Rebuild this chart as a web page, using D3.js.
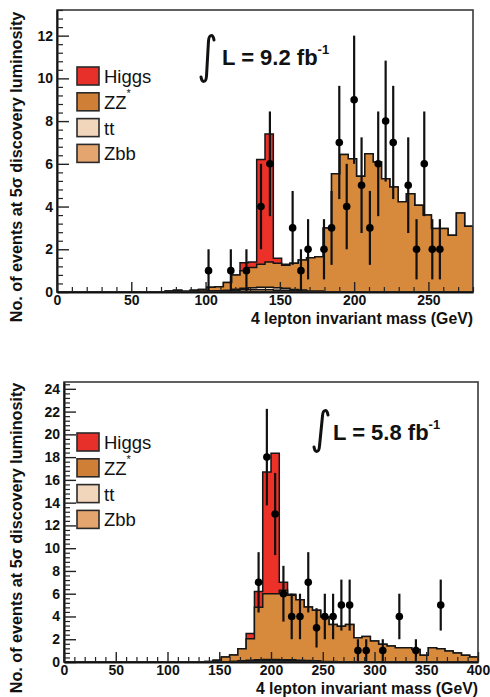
<!DOCTYPE html>
<html><head><meta charset="utf-8">
<script src="https://cdn.jsdelivr.net/npm/d3@7"></script>
<style>
body{margin:0;background:#fff}
svg{display:block}
text{font-family:"Liberation Sans",Arial,Helvetica,sans-serif}
</style>
</head><body>
<svg id="c" width="490" height="697"></svg>
<script>
// ---------- data: top panel (0-280 GeV, 50 bins) ----------
const topRange = [0, 280];
const topBinCount = 50;
const topHiggs = [0,0,0,0,0,0,0,0,0,0, 0,0,0,0,0,0,0,0,0,0,
  0,0,0.37,0.25,4.9,6.0,0.23,0.05,0,0, 0,0,0,0,0,0,0,0,0,0, 0,0,0,0,0,0,0,0,0,0];
const topZZ = [0,0,0,0,0,0,0,0,0,0, 0,0,0,0.05,0.08,0.04,0.08,0.08,0.17,0.19,
  0.38,0.67,0.82,0.95,1.08,1.18,1.15,1.07,1.23,1.41, 1.56,1.62,3.0,5.54,6.44,6.24,5.42,6.47,6.08,5.3,
  4.92,4.22,4.6,4.06,3.6,2.97,2.97,2.66,3.7,3.08];
const topTT = [0,0,0,0,0,0,0,0,0,0, 0,0,0,0,0,0,0,0,0,0,
  0,0.05,0.08,0.1,0.12,0.12,0.12,0.1,0.06,0.04, 0,0,0,0,0,0,0,0,0,0, 0,0,0,0,0,0,0,0,0,0];
const topZbb = [0,0,0,0,0,0,0,0,0,0, 0,0,0,0,0,0,0,0.04,0.05,0.06,
  0.07,0.08,0.1,0.1,0.1,0.1,0.08,0.08,0.06,0.05, 0.04,0.03,0,0,0,0,0,0,0,0, 0,0,0,0,0,0,0,0,0,0];
const topDataX = [102,117,127.5,137.3,143.3,158.6,164.2,169,179.7,184.8,190,195,200,205,210.6,216.2,221.2,226.3,236.4,242,247.2,252.6,257.7];
const topDataY = [1,1,1,4,6,3,1,2,2,3,7,4,9,5,3,6,8,7,5,2,6,2,2];
const topDataErr = [1,1,1,2,2.45,1.73,1,1.41,1.41,1.73,2.65,2,3,2.24,1.73,2.45,2.83,2.65,2.24,1.41,2.45,1.41,1.41];
const topXTicks = [0,50,100,150,200,250];
const topYTicks = [0,2,4,6,8,10,12];
const topLumi = "L = 9.2 fb";

// ---------- data: bottom panel (0-400 GeV, 50 bins) ----------
const botRange = [0, 400];
const botBinCount = 50;
const botHiggs = [0,0,0,0,0,0,0,0,0,0, 0,0,0,0,0,0,0,0,0,0,
  0,0,0.45,1.4,10.7,12.35,0.7,0.1,0,0, 0,0,0,0,0,0,0,0,0,0, 0,0,0,0,0,0,0,0,0,0];
const botZZ = [0,0,0,0,0,0,0,0,0,0, 0,0,0,0,0,0,0,0.05,0.15,0.41,
  0.57,1.05,1.89,4.6,5.78,5.78,6.1,5.66,5.31,4.69, 4.43,3.9,3.26,3.12,3.28,2.14,2.25,1.85,1.55,1.4,
  1.26,1.26,1.1,0.59,1.26,1.17,0.97,0.8,0.6,0.45];
const botTT = [0,0,0,0,0,0,0,0,0,0, 0,0,0,0,0,0,0,0,0,0,
  0,0.04,0.06,0.08,0.1,0.1,0.1,0.1,0.08,0.08, 0.06,0.05,0.04,0.03,0.02,0,0,0,0,0, 0,0,0,0,0,0,0,0,0,0];
const botZbb = [0,0,0,0,0,0,0,0,0,0, 0,0,0,0,0,0,0,0,0,0.03,
  0.05,0.08,0.1,0.12,0.12,0.12,0.1,0.1,0.08,0.06, 0.05,0,0,0,0,0,0,0,0,0, 0,0,0,0,0,0,0,0,0,0];
const botDataX = [188,196,204,212,220,228,236,244,252,260,268,276,284,292,308,324,340,364];
const botDataY = [7,18,13,6,4,4,7,3,4,4,5,5,1,1,1,4,1,5];
const botDataErr = [2.65,4.24,3.61,2.45,2,2,2.65,1.73,2,2,2.24,2.24,1,1,1,2,1,2.24];
const botXTicks = [0,50,100,150,200,250,300,350,400];
const botYTicks = [0,2,4,6,8,10,12,14,16,18,20,22,24];
const botLumi = "L = 5.8 fb";

const legendLabels = ["Higgs", "ZZ", "tt", "Zbb"];
const axisTitleY = "No. of events at 5\u03c3 discovery luminosity";
const axisTitleX = "4 lepton invariant mass (GeV)";

// ---------- styles ----------
const COL = {higgs:"#ec3129", zz:"#d88a3c", tt:"#f3dbc3", zbb:"#e7ad74"};
const LEGCOL = ["#e8302a", "#cf7f36", "#f2d6bb", "#e4a56e"];

const svg = d3.select("#c");

function panel(cfg) {
  const x = d3.scaleLinear().domain(cfg.range).range([cfg.L, cfg.R]);
  const y = d3.scaleLinear().domain([0, cfg.yMax]).range([cfg.B, cfg.T]);
  const n = cfg.nb;
  const edges = d3.range(n + 1).map(i => cfg.range[0] + (cfg.range[1] - cfg.range[0]) * i / n);
  const g = svg.append("g");
  const clipId = "clip" + cfg.id;
  svg.append("clipPath").attr("id", clipId).append("rect")
    .attr("x", cfg.L).attr("y", cfg.T).attr("width", cfg.R - cfg.L).attr("height", cfg.B - cfg.T);

  const s1 = cfg.zbb;
  const s2 = s1.map((v, i) => v + cfg.tt[i]);
  const s3 = s2.map((v, i) => v + cfg.zz[i]);
  const s4 = s3.map((v, i) => v + cfg.higgs[i]);
  const area = d3.area().curve(d3.curveStepAfter)
    .x(d => x(d[0])).y0(y(0)).y1(d => y(d[1]));
  const pts = arr => { const p = arr.map((v, i) => [edges[i], v]); p.push([edges[n], arr[n - 1]]); return p; };
  const hg = g.append("g").attr("clip-path", `url(#${clipId})`);
  [[s4, COL.higgs], [s3, COL.zz], [s2, COL.tt], [s1, COL.zbb]].forEach(([arr, c]) => {
    hg.append("path").attr("d", area(pts(arr))).attr("fill", c)
      .attr("stroke", "#151515").attr("stroke-width", 1.5).attr("stroke-linejoin", "miter");
  });

  // data points
  const dg = g.append("g");
  cfg.dx.forEach((xv, i) => {
    const v = cfg.dy[i], e = cfg.de[i];
    dg.append("line").attr("x1", x(xv)).attr("x2", x(xv))
      .attr("y1", y(v + e)).attr("y2", y(Math.max(0, v - e)))
      .attr("stroke", "#111").attr("stroke-width", 2.2);
    dg.append("circle").attr("cx", x(xv)).attr("cy", y(v)).attr("r", 3.8).attr("fill", "#000");
  });

  // frame
  g.append("rect").attr("x", cfg.L).attr("y", cfg.T).attr("width", cfg.R - cfg.L).attr("height", cfg.B - cfg.T)
    .attr("fill", "none").attr("stroke", "#3a3a3a").attr("stroke-width", 1.6);

  // axes
  const fontTick = "bold 14px 'Liberation Sans', Arial, sans-serif";
  const yMinor = d3.range(0, cfg.yMax + 1e-9, 0.4).filter(v => Math.abs(v / 2 - Math.round(v / 2)) > 1e-6);
  const xMinor = d3.range(cfg.range[0], cfg.range[1] + 1e-9, 10).filter(v => v % 50 !== 0);

  const ya = g.append("g").attr("transform", `translate(${cfg.L},0)`)
    .call(d3.axisLeft(y).tickValues(cfg.yTicks).tickSize(-12).tickSizeOuter(0).tickPadding(4).tickFormat(d3.format("d")));
  ya.select(".domain").attr("stroke", "#111").attr("stroke-width", 2);
  ya.selectAll(".tick line").attr("stroke", "#222").attr("stroke-width", 1.4);
  ya.selectAll("text").style("font", fontTick).attr("fill", "#111");
  g.append("g").attr("transform", `translate(${cfg.L},0)`)
    .call(d3.axisLeft(y).tickValues(yMinor).tickSize(-6).tickFormat(""))
    .call(a => { a.select(".domain").remove(); a.selectAll("line").attr("stroke", "#222").attr("stroke-width", 1.2); });

  const xa = g.append("g").attr("transform", `translate(0,${cfg.B})`)
    .call(d3.axisBottom(x).tickValues(cfg.xTicks).tickSize(-10).tickSizeOuter(0).tickPadding(3).tickFormat(d3.format("d")));
  xa.select(".domain").attr("stroke", "#111").attr("stroke-width", 2);
  xa.selectAll(".tick line").attr("stroke", "#222").attr("stroke-width", 1.4);
  xa.selectAll("text").style("font", fontTick).attr("fill", "#111");
  g.append("g").attr("transform", `translate(0,${cfg.B})`)
    .call(d3.axisBottom(x).tickValues(xMinor).tickSize(-5).tickFormat(""))
    .call(a => { a.select(".domain").remove(); a.selectAll("line").attr("stroke", "#222").attr("stroke-width", 1.2); });

  // axis titles
  g.append("text").attr("transform", `translate(22,${cfg.yTitleC}) rotate(-90)`)
    .attr("text-anchor", "middle").style("font-weight", "bold").style("font-size", "16.2px")
    .attr("fill", "#111").text(axisTitleY);
  g.append("text").attr("x", cfg.R).attr("y", cfg.xTitleY).attr("text-anchor", "end")
    .style("font-weight", "bold").style("font-size", "15.8px").attr("fill", "#111").text(axisTitleX);

  // legend
  legendLabels.forEach((lab, k) => {
    const cy = cfg.legY + k * 25.8;
    g.append("rect").attr("x", 77).attr("y", cy - 9).attr("width", 22).attr("height", 18)
      .attr("fill", LEGCOL[k]).attr("stroke", "#2a2a2a").attr("stroke-width", 1.6);
    const t = g.append("text").attr("x", 104).attr("y", cy + 7).style("font-size", "18.5px").attr("fill", "#111");
    t.append("tspan").text(lab);
    if (lab === "ZZ") t.append("tspan").attr("dy", -12).style("font-size", "11px").text("*");
  });

  // luminosity label
  const [ix0, iy0, ix1, iy1] = cfg.intBox;
  g.append("path").attr("d",
    `M${ix0},${iy1 - 5} C${ix0 + 1},${iy1 + 1} ${ix0 + 5},${iy1 + 1} ${ix0 + 5.5},${iy1 - 6} L${ix1 - 5.5},${iy0 + 6} C${ix1 - 5},${iy0 - 1} ${ix1 - 1},${iy0 - 1} ${ix1},${iy0 + 5}`)
    .attr("fill", "none").attr("stroke", "#111").attr("stroke-width", 3).attr("stroke-linecap", "round");
  const lt = g.append("text").attr("x", cfg.lumiX).attr("y", cfg.lumiY)
    .style("font-weight", "bold").style("font-size", "22px").attr("fill", "#111");
  lt.append("tspan").text(cfg.lumi);
  lt.append("tspan").attr("dy", -11).style("font-size", "13px").text("-1");
}

panel({id: "t", range: topRange, nb: topBinCount, yMax: 13.2, L: 57, R: 473, T: 10, B: 292,
  higgs: topHiggs, zz: topZZ, tt: topTT, zbb: topZbb,
  dx: topDataX, dy: topDataY, de: topDataErr, xTicks: topXTicks, yTicks: topYTicks,
  yTitleC: 167, xTitleY: 324, legY: 76, intBox: [201, 35, 214, 82], lumi: topLumi, lumiX: 222, lumiY: 65});

panel({id: "b", range: botRange, nb: botBinCount, yMax: 24.6, L: 64, R: 478, T: 382, B: 662,
  higgs: botHiggs, zz: botZZ, tt: botTT, zbb: botZbb,
  dx: botDataX, dy: botDataY, de: botDataErr, xTicks: botXTicks, yTicks: botYTicks,
  yTitleC: 538, xTitleY: 694, legY: 442, intBox: [314, 410, 328, 452], lumi: botLumi, lumiX: 333, lumiY: 440});
</script>
</body></html>
